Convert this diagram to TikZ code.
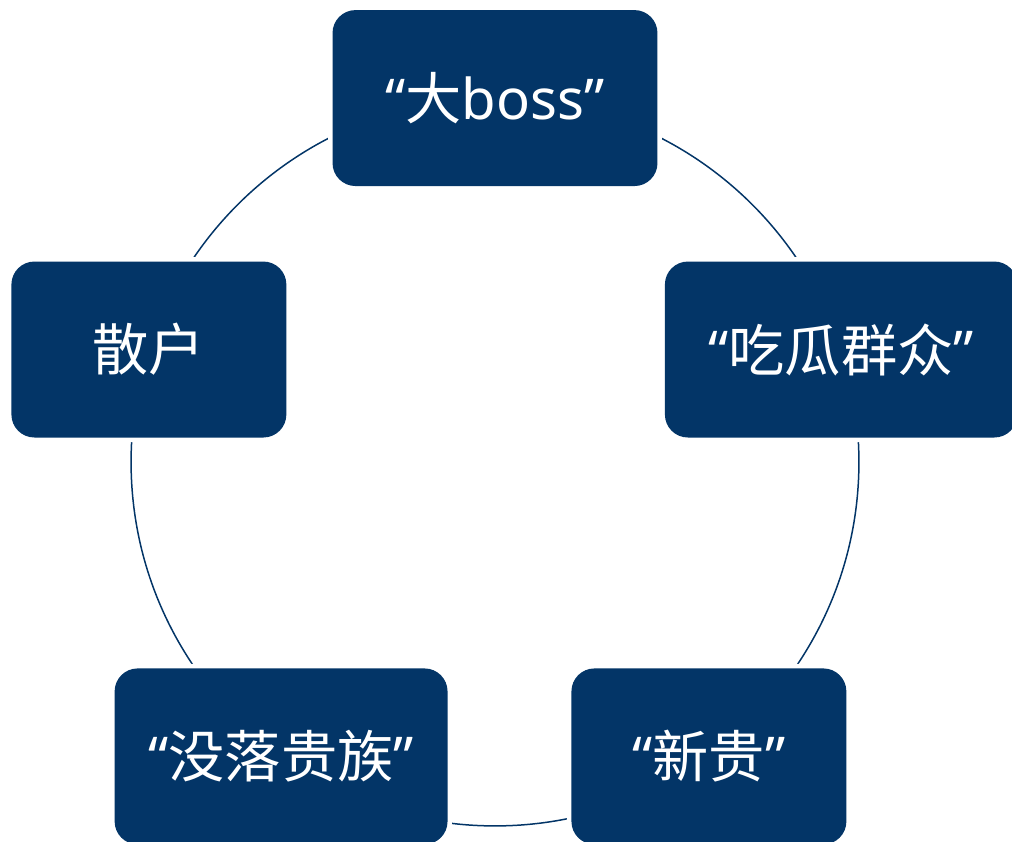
\documentclass[tikz,border=0pt]{standalone}
\usepackage{fontspec}
\setmainfont{Noto Sans}
\newfontfamily\cjk{Noto Sans CJK SC}
\definecolor{navy}{HTML}{033567}

\tikzset{
	box/.style={fill=navy, text=white, rounded corners=0.46cm,
		minimum height=3.52cm, inner sep=0pt,
		font=\fontsize{32}{38}\selectfont,
		preaction={draw=white, line width=0.18cm}},
	ring/.style={draw=navy, line width=0.85pt}
}

\begin{document}
\begin{tikzpicture}[x=0.02cm, y=0.02cm]

		\useasboundingbox (0,0) rectangle (1012,842);
		\coordinate (c) at (495,380);

		% the ring behind the boxes
		\draw[ring] (c) circle[radius=7.28cm];

		\node[box, minimum width=6.5cm]  (boss)     at ([shift={(90:7.28cm)}]c)   {“{\cjk 大}boss”};
		\node[box, minimum width=7.05cm] (melon)    at ([shift={(18:7.28cm)}]c)   {“{\cjk 吃瓜群众}”};
		\node[box, minimum width=5.5cm]  (newrich)  at ([shift={(-54:7.28cm)}]c)  {“{\cjk 新贵}”};
		\node[box, minimum width=6.66cm] (oldnoble) at ([shift={(-126:7.28cm)}]c) {“{\cjk 没落贵族}”};
		\node[box, minimum width=5.5cm]  (retail)   at ([shift={(162:7.28cm)}]c)  {{\cjk 散户}};

	\end{tikzpicture}
\end{document}
